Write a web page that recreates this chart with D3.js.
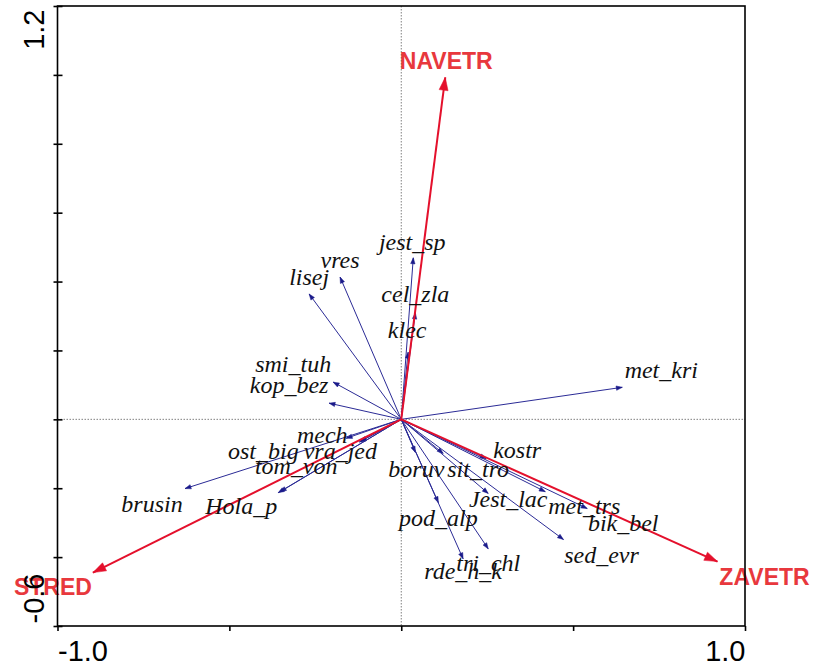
<!DOCTYPE html>
<html>
<head>
<meta charset="utf-8">
<script src="https://cdn.jsdelivr.net/npm/d3@7"></script>
<style>
  html, body { margin: 0; padding: 0; background: #fff; }
  svg { display: block; }
</style>
</head>
<body>
<svg id="chart" width="813" height="667"></svg>
<script>
// Species scores (axis 1, axis 2)
const species = ["jest_sp", "vres", "lisej", "cel_zla", "klec", "smi_tuh", "kop_bez", "met_kri",
  "mech", "ost_big", "vra_jed", "tom_von", "Hola_p", "brusin", "boruv", "sit_tro", "kostr",
  "Jest_lac", "met_trs", "bik_bel", "pod_alp", "sed_evr", "tri_chl", "rde_h_k"];
const speciesX = [0.035, -0.178, -0.268, 0.041, 0.020, -0.198, -0.210, 0.643,
  -0.160, -0.122, -0.119, -0.352, -0.358, -0.629, 0.041, 0.122, 0.247,
  0.253, 0.419, 0.541, 0.108, 0.472, 0.253, 0.180];
const speciesY = [0.469, 0.413, 0.364, 0.309, 0.195, 0.108, 0.047, 0.093,
  -0.055, -0.066, -0.064, -0.210, -0.213, -0.201, -0.096, -0.099, -0.114,
  -0.215, -0.210, -0.259, -0.242, -0.349, -0.376, -0.405];

// Environmental variables (axis 1, axis 2)
const envVars = ["NAVETR", "STRED", "ZAVETR"];
const envX = [0.128, -0.897, 0.920];
const envY = [0.993, -0.445, -0.413];

// Axis ticks and labels
const xTicks = [-1.0, -0.5, 0, 0.5, 1.0];
const xTickLabels = ["-1.0", "", "", "", "1.0"];
const yTicks = [-0.6, -0.4, -0.2, 0, 0.2, 0.4, 0.6, 0.8, 1.0, 1.2];
const yTickLabels = ["-0.6", "", "", "", "", "", "", "", "", "1.2"];

// Label nudges (pixels from arrow tip)
const speciesNudge = {
  jest_sp: [-1, -8], vres: [0, -9], lisej: [0, -9], cel_zla: [0, -11], klec: [-1, -14],
  smi_tuh: [-40, -10], kop_bez: [-40, -10], met_kri: [39, -9], mech: [-24, 5],
  ost_big: [-96, 17], vra_jed: [-20, 18], tom_von: [16, -18], Hola_p: [-37, 21],
  brusin: [-33, 23], boruv: [1, 25], sit_tro: [35, 24], kostr: [31, -1],
  Jest_lac: [20, 14], met_trs: [39, 22], bik_bel: [36, 22], pod_alp: [0, 23],
  sed_evr: [38, 23], tri_chl: [0, 22], rde_h_k: [0, 20]
};
const envNudge = { NAVETR: [1, -8], STRED: [-40, 22], ZAVETR: [47, 23] };

const svg = d3.select("#chart");
const plotL = 57.5, plotR = 745, plotT = 6, plotB = 626;

const x = d3.scaleLinear().domain([-1.0, 1.0]).range([plotL, plotR]);
const y = d3.scaleLinear().domain([-0.6, 1.2]).range([plotB, plotT]);

// Zero reference lines
svg.append("line")
  .attr("x1", x(0)).attr("x2", x(0)).attr("y1", plotT).attr("y2", plotB)
  .attr("stroke", "#808080").attr("stroke-width", 1).attr("stroke-dasharray", "1.5,1.5");
svg.append("line")
  .attr("x1", plotL).attr("x2", plotR).attr("y1", y(0)).attr("y2", y(0))
  .attr("stroke", "#808080").attr("stroke-width", 1).attr("stroke-dasharray", "1.5,1.5");

// Arrowhead drawing helper
function arrowHead(g, x0, y0, x1, y1, len, halfW, color) {
  const ang = Math.atan2(y1 - y0, x1 - x0);
  const bx = x1 - len * Math.cos(ang), by = y1 - len * Math.sin(ang);
  const px = -Math.sin(ang) * halfW, py = Math.cos(ang) * halfW;
  g.append("path")
    .attr("d", `M${x1},${y1}L${bx + px},${by + py}L${bx - px},${by - py}Z`)
    .attr("fill", color).attr("stroke", color).attr("stroke-width", 0.5);
}

// Species arrows
const spG = svg.append("g");
species.forEach((name, i) => {
  const x0 = x(0), y0 = y(0), x1 = x(speciesX[i]), y1 = y(speciesY[i]);
  spG.append("line")
    .attr("x1", x0).attr("y1", y0).attr("x2", x1).attr("y2", y1)
    .attr("stroke", "#2b2b96").attr("stroke-width", 1);
  arrowHead(spG, x0, y0, x1, y1, 6, 2.2, "#1a1a8a");
});

// Environmental arrows
const envG = svg.append("g");
envVars.forEach((name, i) => {
  const x0 = x(0), y0 = y(0), x1 = x(envX[i]), y1 = y(envY[i]);
  envG.append("line")
    .attr("x1", x0).attr("y1", y0).attr("x2", x1).attr("y2", y1)
    .attr("stroke", "#e4102c").attr("stroke-width", 2);
  arrowHead(envG, x0, y0, x1, y1, 13, 4.5, "#e4102c");
});

// Species labels
svg.append("g").selectAll("text").data(species).join("text")
  .attr("x", (d, i) => x(speciesX[i]) + speciesNudge[d][0])
  .attr("y", (d, i) => y(speciesY[i]) + speciesNudge[d][1])
  .attr("text-anchor", "middle")
  .attr("font-family", "'Liberation Serif', 'Times New Roman', serif")
  .attr("font-style", "italic")
  .attr("font-size", 24)
  .attr("fill", "#111")
  .text(d => d);

// Environmental labels
svg.append("g").selectAll("text").data(envVars).join("text")
  .attr("x", (d, i) => x(envX[i]) + envNudge[d][0])
  .attr("y", (d, i) => y(envY[i]) + envNudge[d][1])
  .attr("text-anchor", "middle")
  .attr("font-family", "'Liberation Sans', Arial, sans-serif")
  .attr("font-weight", "bold")
  .attr("font-size", 23)
  .attr("fill", "#e8383d")
  .text(d => d);

// Frame
svg.append("rect")
  .attr("x", plotL).attr("y", plotT).attr("width", plotR - plotL).attr("height", plotB - plotT)
  .attr("fill", "none").attr("stroke", "#000").attr("stroke-width", 1.6);

// Bottom axis
const xAxis = d3.axisBottom(x).tickValues(xTicks).tickSize(5).tickSizeOuter(0)
  .tickFormat((d, i) => xTickLabels[i]);
const gx = svg.append("g").attr("transform", `translate(0,${plotB})`).call(xAxis);
gx.select(".domain").remove();
gx.selectAll(".tick line").attr("stroke", "#000").attr("stroke-width", 1.6);
gx.selectAll(".tick text")
  .attr("font-family", "'Liberation Sans', Arial, sans-serif")
  .attr("font-size", 29).attr("fill", "#000")
  .attr("dy", null).attr("y", 35)
  .attr("text-anchor", (d, i) => i === 0 ? "start" : "end");

// Left axis
const yAxis = d3.axisLeft(y).tickValues(yTicks).tickSize(4).tickSizeOuter(0)
  .tickFormat((d, i) => yTickLabels[i]);
const gy = svg.append("g").attr("transform", `translate(${plotL},0)`).call(yAxis);
gy.select(".domain").remove();
gy.selectAll(".tick line").attr("x1", 5).attr("stroke", "#000").attr("stroke-width", 1.6);
gy.selectAll(".tick text")
  .attr("font-family", "'Liberation Sans', Arial, sans-serif")
  .attr("font-size", 29).attr("fill", "#000")
  .attr("dy", null).attr("x", null)
  .attr("text-anchor", (d, i) => i === 0 ? "start" : "end")
  .attr("transform", (d, i) => `translate(-14,${i === 0 ? -3 : 3}) rotate(-90)`);
</script>
</body>
</html>
